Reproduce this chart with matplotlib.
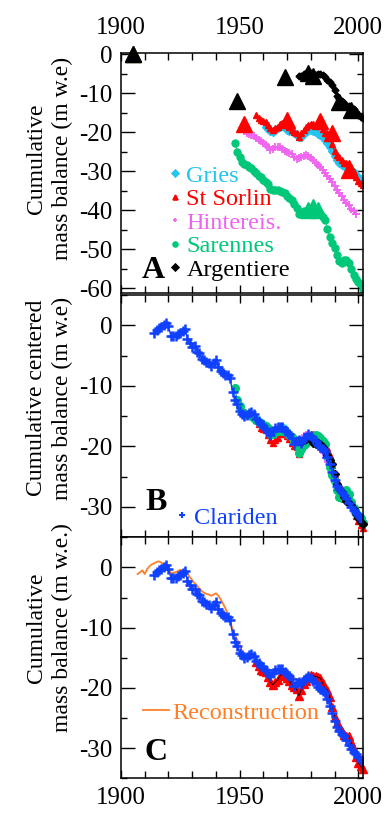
import numpy as np
import matplotlib
matplotlib.use("Agg")
import matplotlib.pyplot as plt
from matplotlib.lines import Line2D
from matplotlib.ticker import MultipleLocator

plt.rcParams['font.family'] = ['Liberation Serif', 'DejaVu Serif']
plt.rcParams['axes.unicode_minus'] = False

# cumulative mass balance (m w.e.)
clariden_years = np.arange(1914, 2003)
clariden = [-1.2, -0.8, -0.5, -0.3, 0.0, 0.4, -0.2, -1.7, -1.8, -1.7,
            -1.4, -1.2, -0.9, -0.6, -2.2, -2.9, -3.6, -3.5, -4.4, -4.6,
            -5.5, -5.8, -6.0, -6.3, -6.8, -6.2, -5.8, -6.9, -7.5, -7.9,
            -8.3, -8.2, -8.8, -11.0, -12.3, -13.0, -14.2, -14.6, -15.0, -14.8,
            -14.5, -14.3, -14.7, -15.5, -15.8, -16.3, -16.6, -17.1, -17.6, -18.1,
            -17.5, -17.0, -16.8, -16.9, -16.8, -17.4, -17.7, -18.0, -18.6, -19.6,
            -19.2, -19.0, -19.4, -18.7, -18.4, -18.0, -18.3, -18.8, -19.2, -19.8,
            -20.2, -20.5, -20.8, -21.8, -23.0, -24.2, -25.5, -26.5, -27.1, -27.6,
            -28.0, -28.6, -29.4, -30.1, -30.6, -31.0, -31.4, -31.9, -32.3]

gries_years = np.arange(1961, 2003)
gries = [-18.7, -19.3, -19.8, -20.0, -19.5, -19.0, -18.7, -18.4, -18.7, -19.4,
         -19.6, -19.8, -20.3, -20.8, -21.2, -21.3, -20.5, -20.0, -19.5, -19.4,
         -19.8, -20.0, -20.4, -20.8, -21.3, -22.0, -22.8, -23.8, -24.8, -26.0,
         -27.2, -28.0, -28.4, -28.7, -28.9, -29.2, -29.7, -30.3, -30.9, -31.4,
         -31.9, -32.5]

stsorlin_years = np.arange(1957, 2003)
stsorlin = [-15.7, -16.3, -17.0, -17.2, -17.3, -18.2, -19.0, -19.5, -19.0, -18.7,
            -18.0, -17.6, -17.9, -18.3, -18.8, -19.5, -19.9, -20.2, -21.3, -20.3,
            -19.4, -18.8, -18.2, -17.9, -18.0, -18.1, -18.2, -18.4, -19.2, -20.1,
            -20.3, -21.5, -23.1, -24.8, -25.8, -26.4, -27.1, -27.8, -27.9, -28.0,
            -29.0, -30.2, -31.5, -32.4, -33.0, -33.5]

hintereis_years = np.arange(1952, 2000)
hintereis = [-19.8, -20.2, -20.5, -20.7, -21.0, -21.4, -21.9, -22.4, -22.8, -23.3,
             -23.9, -24.6, -24.3, -23.9, -23.7, -23.9, -24.3, -24.8, -25.2, -25.4,
             -25.7, -26.3, -26.8, -26.7, -26.5, -26.0, -25.8, -26.1, -26.6, -27.1,
             -27.8, -28.4, -29.0, -29.6, -30.6, -31.3, -32.0, -32.8, -33.9, -34.9,
             -35.7, -36.4, -37.4, -38.1, -38.8, -39.6, -40.3, -40.9]

sarennes_years = np.arange(1948, 2003)
sarennes = [-22.8, -25.0, -26.3, -27.6, -28.1, -28.5, -28.9, -29.3, -30.0, -30.6,
            -31.2, -31.6, -32.3, -32.7, -33.3, -34.5, -34.9, -34.8, -34.9, -35.0,
            -35.4, -35.7, -36.3, -36.9, -37.5, -38.4, -39.5, -41.0, -40.6, -40.3,
            -40.2, -40.0, -40.1, -40.3, -40.0, -40.5, -41.0, -41.8, -42.6, -44.8,
            -47.0, -48.5, -49.8, -51.6, -53.0, -53.5, -52.8, -52.7, -53.6, -55.2,
            -56.5, -57.6, -58.3, -59.0, -60.1]

argentiere_years = np.arange(1975, 2003)
argentiere = [-5.5, -5.6, -5.2, -4.9, -4.6, -4.8, -5.2, -5.3, -5.0, -5.1,
              -5.4, -5.9, -6.6, -7.2, -7.8, -9.3, -10.8, -11.6, -12.0, -12.6,
              -13.2, -13.4, -13.7, -14.2, -14.9, -15.5, -16.0, -16.3]

# geodetic (large triangles)
arg_geo_years = [1905, 1949, 1969, 1979, 1981, 1992, 1997]
arg_geo = [0, -12.0, -5.8, -4.9, -5.5, -12.3, -14.3]
sts_geo_years = [1905, 1952, 1970, 1984, 1989, 1996]
sts_geo = [0, -17.9, -16.8, -17.2, -20.2, -29.8]
sar_geo_years = [1905, 1979, 1981, 1983]
sar_geo = [0, -40.0, -39.3, -40.0]

recon_years = np.arange(1907, 2003)
recon = [-1.1, -0.8, -0.5, -1.1, -0.3, 0.2, 0.5, 0.7, 0.9, 1.0,
         0.8, 0.6, 0.3, 0.2, -1.0, -0.9, -0.8, -0.6, -0.4, -0.5,
         -0.4, -1.0, -1.6, -2.1, -2.6, -3.0, -3.5, -3.9, -4.2, -4.4,
         -4.5, -4.7, -4.5, -4.3, -4.7, -5.3, -6.0, -6.8, -7.7, -9.0,
         -10.2, -11.2, -12.0, -12.8, -13.9, -14.4, -14.7, -14.6, -14.8, -15.0,
         -15.5, -15.9, -16.3, -16.7, -17.0, -17.2, -17.1, -17.0, -16.9, -17.0,
         -17.3, -17.2, -17.4, -17.6, -17.8, -18.0, -18.3, -18.6, -19.0, -18.6,
         -18.3, -18.2, -18.4, -18.3, -18.5, -18.8, -19.2, -19.6, -19.9, -20.4,
         -21.2, -22.4, -23.6, -24.6, -25.4, -26.2, -26.8, -27.2, -27.5, -28.0,
         -28.5, -29.2, -30.2, -30.8, -31.5, -32.0]

c_gries = '#22c4f0'
c_sts = '#ff0000'
c_hin = '#f064f0'
c_sar = '#00c878'
c_arg = 'black'
c_cla = '#1040ff'
c_rec = '#ff7f27'


def center_on(years, values, ref_years, ref_values):
    """Remove offset and trend relative to the reference series."""
    years = np.asarray(years)
    values = np.asarray(values, float)
    ref = dict(zip(ref_years, ref_values))
    idx = [i for i, y in enumerate(years) if y in ref]
    diff = values[idx] - np.array([ref[years[i]] for i in idx])
    p = np.polyfit(years[idx], diff, 1)
    return values - np.polyval(p, years)


def style_axes(ax, ylim):
    ax.set_xlim(1900, 2002)
    ax.set_ylim(*ylim)
    ax.xaxis.set_major_locator(MultipleLocator(50))
    ax.xaxis.set_minor_locator(MultipleLocator(10))
    ax.yaxis.set_major_locator(MultipleLocator(10))
    ax.yaxis.set_minor_locator(MultipleLocator(5))
    ax.tick_params(which='both', direction='in', top=True, right=True,
                   labelsize=18, width=1.0)
    ax.tick_params(axis='x', which='major', length=6)
    ax.tick_params(axis='x', which='minor', length=5)
    ax.tick_params(axis='y', which='major', length=10, pad=6)
    ax.tick_params(axis='y', which='minor', length=4.5)
    for s in ax.spines.values():
        s.set_linewidth(1.1)


fig = plt.figure(figsize=(3.86, 8.18), dpi=100)
L, W = 121 / 386, 242 / 386
axA = fig.add_axes([L, 1 - 293.3 / 818, W, 240 / 818])
axB = fig.add_axes([L, 1 - 537 / 818, W, 242 / 818])
axC = fig.add_axes([L, 1 - 778.3 / 818, W, 241 / 818])

# ---- panel A
style_axes(axA, (-61.3, 0.2))
axA.tick_params(axis='x', labeltop=True, labelbottom=False, pad=10)
axA.plot(gries_years, gries, '-D', color=c_gries, ms=3.8, lw=0.9)
axA.plot(stsorlin_years, stsorlin, '-^', color=c_sts, ms=5, lw=0.8)
axA.plot(hintereis_years, hintereis, '-+', color=c_hin, ms=6, mew=1.3, lw=0.8)
axA.plot(sarennes_years, sarennes, '-o', color=c_sar, ms=5, lw=0.8)
axA.plot(argentiere_years, argentiere, 'D', color=c_arg, ms=3.5)
axA.plot(sts_geo_years, sts_geo, '^', color=c_sts, ms=11, clip_on=False)
axA.plot(sar_geo_years, sar_geo, '^', color=c_sar, ms=11, clip_on=False)
axA.plot(arg_geo_years, arg_geo, '^', color=c_arg, ms=11, clip_on=False)

names = ['Gries', 'St Sorlin', 'Hintereis.', 'Sarennes', 'Argentiere']
cols = [c_gries, c_sts, c_hin, c_sar, c_arg]
marks = ['D', '^', '+', 'o', 'D']
handles = [Line2D([], [], ls='none', marker=m, color=c, ms=3.5, mew=1.2)
           for m, c in zip(marks, cols)]
axA.legend(handles, names, loc='upper left', bbox_to_anchor=(0.2, 0.535),
           frameon=False, fontsize=17.5, handlelength=0.45, handletextpad=0.25,
           labelspacing=0.06, borderpad=0, borderaxespad=0, labelcolor=cols)
axA.text(0.087, 0.064, 'A', transform=axA.transAxes, fontsize=23,
         fontweight='bold', va='baseline')
axA.set_ylabel('Cumulative\nmass balance (m w.e)', fontsize=17, linespacing=1.3)
axA.yaxis.set_label_coords(-0.2, 0.56)

# ---- panel B
style_axes(axB, (-35, 5))
axB.tick_params(axis='x', labelbottom=False)
for yrs, vals, fmt, c, kw in [
        (gries_years, gries, '-D', c_gries, dict(ms=3.5)),
        (stsorlin_years, stsorlin, '-^', c_sts, dict(ms=5)),
        (hintereis_years, hintereis, '-+', c_hin, dict(ms=5, mew=1.2)),
        (sarennes_years, sarennes, '-o', c_sar, dict(ms=5.5)),
        (argentiere_years, argentiere, '-D', c_arg, dict(ms=4))]:
    if yrs is stsorlin_years:
        cv = np.asarray(vals)
    else:
        cv = center_on(yrs, vals, clariden_years, clariden)
    axB.plot(yrs, cv, fmt, color=c, lw=0.8, clip_on=False, **kw)
axB.plot(clariden_years, clariden, '-+', color=c_cla, ms=7, mew=1.8, lw=1.0)
hB = [Line2D([], [], ls='none', marker='+', color=c_cla, ms=5, mew=1.5)]
axB.legend(hB, ['Clariden'], loc='upper left', bbox_to_anchor=(0.227, 0.125),
           frameon=False, fontsize=17.5, handlelength=0.5, handletextpad=0.25,
           borderpad=0, borderaxespad=0, labelcolor=[c_cla])
axB.text(0.099, 0.112, 'B', transform=axB.transAxes, fontsize=23,
         fontweight='bold', va='baseline')
axB.set_ylabel('Cumulative centered\nmass balance (m w.e)', fontsize=17,
               linespacing=1.3)
axB.yaxis.set_label_coords(-0.2, 0.574)

# ---- panel C
style_axes(axC, (-35, 5))
axC.tick_params(axis='x', pad=6)
axC.plot(recon_years, recon, '-', color=c_rec, lw=1.3)
axC.plot(stsorlin_years, stsorlin, '^', color=c_sts, ms=5.5, clip_on=False)
axC.plot(stsorlin_years, stsorlin, '-', color='black', lw=0.6)
axC.plot(clariden_years, clariden, '-+', color=c_cla, ms=7, mew=1.8, lw=1.0)
hC = [Line2D([], [], color=c_rec, lw=1.3)]
axC.legend(hC, ['Reconstruction'], loc='upper left', bbox_to_anchor=(0.091, 0.318),
           frameon=False, fontsize=17.5, handlelength=1.05, handletextpad=0.15,
           borderpad=0, borderaxespad=0, labelcolor=[c_rec])
axC.text(0.099, 0.076, 'C', transform=axC.transAxes, fontsize=23,
         fontweight='bold', va='baseline')
axC.set_ylabel('Cumulative\nmass balance (m w.e.)', fontsize=17, linespacing=1.3)
axC.yaxis.set_label_coords(-0.2, 0.624)

fig.savefig('out.png', dpi=100)
